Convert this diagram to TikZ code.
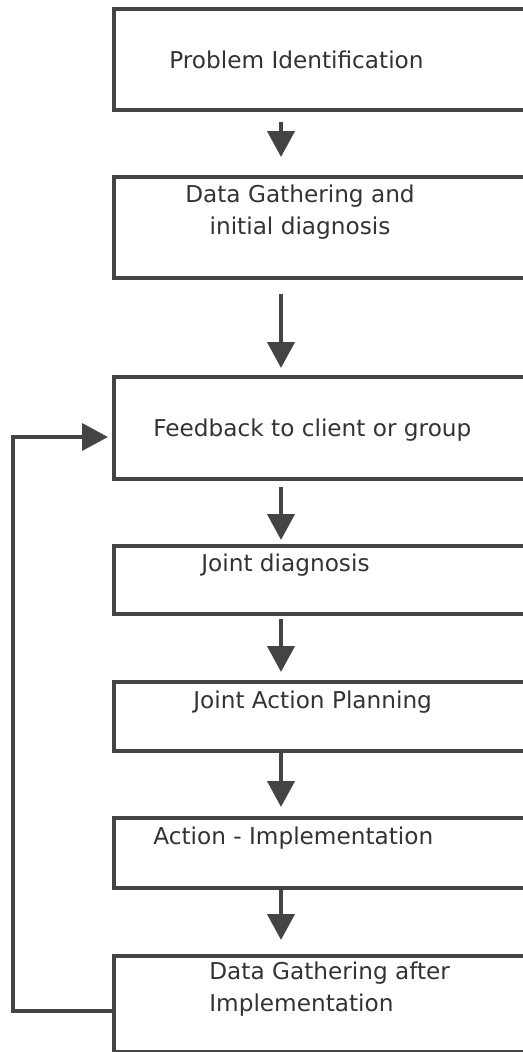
\documentclass[tikz,border=0pt]{standalone}
\usepackage{fontspec}
\setmainfont{DejaVu Sans}
\usepackage{tikz}
\usetikzlibrary{positioning}
\usetikzlibrary{arrows.meta}
\definecolor{linegray}{HTML}{444444}
\definecolor{textgray}{HTML}{333333}
\tikzset{stagebox/.style={draw=linegray, line width=2.1pt, rectangle, anchor=north west, minimum width=9.2cm, inner sep=0pt}}
\tikzset{stagetext/.style={text=textgray, font=\fontsize{13.2}{18.2}\selectfont, inner sep=0pt}}
\tikzset{arr/.style={draw=linegray, line width=2.4pt, -{Triangle[length=0.52cm, width=0.54cm]}}}

\begin{document}
\begin{tikzpicture}[x=0.02cm, y=-0.02cm]
\useasboundingbox (0,0) rectangle (522,1052);
\node[stagebox, minimum height=2.02cm] (b1) at (112,7) {};
\node[stagebox, minimum height=2.02cm] (b2) at (112,175) {};
\node[stagebox, minimum height=2.04cm] (b3) at (112,375) {};
\node[stagebox, minimum height=1.36cm] (b4) at (112,544) {};
\node[stagebox, minimum height=1.38cm] (b5) at (112,680) {};
\node[stagebox, minimum height=1.40cm] (b6) at (112,816) {};
\node[stagebox, minimum height=1.92cm] (b7) at (112,954) {};
% labels
\node[stagetext, anchor=west] (t1) at (169,60) {Problem Identification};
\node[stagetext, align=center] (t2) at (300,212) {Data Gathering and\\initial diagnosis};
\node[stagetext, anchor=west] (t3) at (153,430) {Feedback to client or group};
\node[stagetext, anchor=west] (t4) at (201,565) {Joint diagnosis};
\node[stagetext, anchor=west] (t5) at (193,702) {Joint Action Planning};
\node[stagetext, anchor=west] (t6) at (153,838) {Action - Implementation};
\node[stagetext, anchor=west, align=left] (t7) at (209,989) {Data Gathering after\\Implementation};
% arrows
\coordinate (ax) at (281,0);
\draw[arr, shorten <=0.2cm, shorten >=0.36cm] (b1.south -| ax) -- (b2.north -| ax);
\draw[arr, shorten <=0.28cm, shorten >=0.14cm] (b2.south -| ax) -- (b3.north -| ax);
\draw[arr, shorten <=0.12cm, shorten >=0.08cm] (b3.south -| ax) -- (b4.north -| ax);
\draw[arr, shorten <=0.06cm, shorten >=0.16cm] (b4.south -| ax) -- (b5.north -| ax);
\draw[arr, shorten >=0.18cm] (b5.south -| ax) -- (b6.north -| ax);
\draw[arr, shorten >=0.28cm] (b6.south -| ax) -- (b7.north -| ax);
% feedback loop
\coordinate (fbin) at (13,1011);
\coordinate (fbout) at (13,437);
\draw[arr, line width=2.1pt, shorten >=0.08cm] (b7.west |- fbin) -- (fbin) -- (fbout) -- (b3.west |- fbout);
\end{tikzpicture}
\end{document}
